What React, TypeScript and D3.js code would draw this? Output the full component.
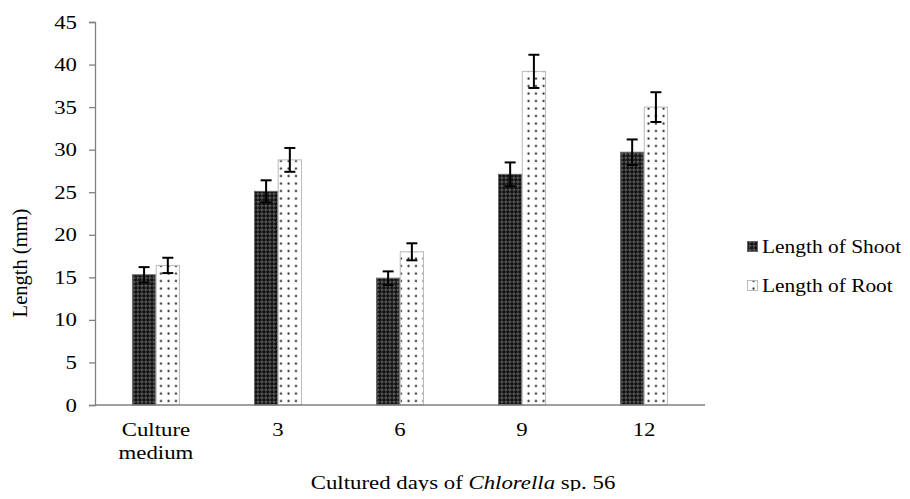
import { useEffect, useRef } from "react";
import * as d3 from "d3";

const categories = ["Culture medium", "3", "6", "9", "12"];
const shootValues = [15.3, 25.1, 14.9, 27.1, 29.7];
const shootErrors = [0.9, 1.3, 0.8, 1.4, 1.5];
const rootValues = [16.4, 28.8, 18.0, 39.2, 35.0];
const rootErrors = [0.9, 1.4, 1.0, 1.95, 1.75];
const yTicks = [0, 5, 10, 15, 20, 25, 30, 35, 40, 45];
const seriesNames = ["Length of Shoot", "Length of Root"];

const FONT = "'Times New Roman', 'Liberation Serif', serif";
const SX = 1.17; // the reference text is a bit stretched sideways

const App = () => {
  const ref = useRef<SVGSVGElement>(null);

  useEffect(() => {
    const width = 910;
    const height = 499;
    const margin = { top: 22, right: 205, bottom: 94, left: 95 };

    const svg = d3.select(ref.current);
    svg.selectAll("*").remove();

    // text placed at (x, y) and stretched horizontally around its anchor
    const label = (parent: any, x: number, y: number, anchor: string, size = 19.5) =>
      parent
        .append("text")
        .attr("transform", `translate(${x},${y}) scale(${SX},1)`)
        .attr("text-anchor", anchor)
        .attr("font-size", size);

    const defs = svg.append("defs");
    const shoot = defs
      .append("pattern")
      .attr("id", "shootPat")
      .attr("patternUnits", "userSpaceOnUse")
      .attr("width", 4)
      .attr("height", 4);
    shoot.append("rect").attr("width", 4).attr("height", 4).attr("fill", "#111");
    shoot
      .append("path")
      .attr("d", "M2,0.7 L3.3,2 L2,3.3 L0.7,2 Z")
      .attr("fill", "none")
      .attr("stroke", "#aaa")
      .attr("stroke-width", 0.6);

    const root = defs
      .append("pattern")
      .attr("id", "rootPat")
      .attr("patternUnits", "userSpaceOnUse")
      .attr("width", 7.5)
      .attr("height", 7.5);
    root.append("rect").attr("width", 7.5).attr("height", 7.5).attr("fill", "#fff");
    root.append("circle").attr("cx", 3.5).attr("cy", 3.5).attr("r", 1.1).attr("fill", "#222");

    const x0 = d3
      .scaleBand()
      .domain(categories)
      .range([margin.left, width - margin.right])
      .paddingInner(0.607)
      .paddingOuter(0.303);
    const x1 = d3
      .scaleBand()
      .domain(seriesNames)
      .range([0, x0.bandwidth()])
      .padding(0.02);
    const y = d3
      .scaleLinear()
      .domain([0, 45])
      .range([height - margin.bottom, margin.top]);

    const series = [
      { name: seriesNames[0], values: shootValues, errors: shootErrors, fill: "url(#shootPat)", stroke: "#666" },
      { name: seriesNames[1], values: rootValues, errors: rootErrors, fill: "url(#rootPat)", stroke: "#bbb" },
    ];

    // y axis
    const yAxis = svg
      .append("g")
      .attr("transform", `translate(${margin.left},0)`)
      .call(d3.axisLeft(y).tickValues(yTicks).tickSize(6).tickFormat(() => ""));
    yAxis.select(".domain").attr("stroke", "#808080").attr("stroke-width", 1.3);
    yAxis.selectAll(".tick line").attr("stroke", "#808080").attr("stroke-width", 1.3);
    yTicks.forEach((t) => {
      label(svg, margin.left - 18, y(t) + 6.5, "end").text(t);
    });

    // bars
    series.forEach((s) => {
      const g = svg.append("g");
      g.selectAll("rect")
        .data(categories)
        .join("rect")
        .attr("x", (d) => (x0(d) ?? 0) + (x1(s.name) ?? 0))
        .attr("y", (d, i) => y(s.values[i]))
        .attr("width", x1.bandwidth())
        .attr("height", (d, i) => y(0) - y(s.values[i]))
        .attr("fill", s.fill)
        .attr("stroke", s.stroke)
        .attr("stroke-width", 1);

      const eb = g
        .selectAll("g.err")
        .data(categories)
        .join("g")
        .attr("class", "err")
        .attr("stroke", "#000")
        .attr("stroke-width", 2);
      const cx = (d: string) => (x0(d) ?? 0) + (x1(s.name) ?? 0) + x1.bandwidth() / 2;
      eb.append("line")
        .attr("x1", cx)
        .attr("x2", cx)
        .attr("y1", (d, i) => y(s.values[i] + s.errors[i]))
        .attr("y2", (d, i) => y(s.values[i] - s.errors[i]));
      eb.append("line")
        .attr("x1", (d) => cx(d) - 5.5)
        .attr("x2", (d) => cx(d) + 5.5)
        .attr("y1", (d, i) => y(s.values[i] + s.errors[i]))
        .attr("y2", (d, i) => y(s.values[i] + s.errors[i]));
      eb.append("line")
        .attr("x1", (d) => cx(d) - 5.5)
        .attr("x2", (d) => cx(d) + 5.5)
        .attr("y1", (d, i) => y(s.values[i] - s.errors[i]))
        .attr("y2", (d, i) => y(s.values[i] - s.errors[i]));
    });

    // x axis line
    svg
      .append("line")
      .attr("x1", margin.left)
      .attr("x2", width - margin.right)
      .attr("y1", y(0))
      .attr("y2", y(0))
      .attr("stroke", "#808080")
      .attr("stroke-width", 1.3);

    // category labels
    categories.forEach((c) => {
      const cx = (x0(c) ?? 0) + x0.bandwidth() / 2;
      c.split(" ").forEach((w, i) => {
        label(svg, cx, y(0) + 31 + i * 22.5, "middle").text(w);
      });
    });

    // axis titles
    svg
      .append("text")
      .attr("transform", `translate(27,263) rotate(-90)`)
      .attr("text-anchor", "middle")
      .attr("font-size", 20.5)
      .text("Length (mm)");

    const xt = label(svg, 463, 489, "middle");
    xt.append("tspan").text("Cultured days of ");
    xt.append("tspan").attr("font-style", "italic").text("Chlorella");
    xt.append("tspan").text(" sp. 56");

    // legend
    series.forEach((s, i) => {
      const ly = 253 + i * 39;
      svg
        .append("rect")
        .attr("x", 747.5)
        .attr("y", ly - 11.5)
        .attr("width", 10)
        .attr("height", 10)
        .attr("fill", s.fill)
        .attr("stroke", s.stroke);
      label(svg, 762, ly, "start", 18.3).text(s.name);
    });
  }, []);

  return (
    <svg
      ref={ref}
      width={910}
      height={499}
      style={{ display: "block", margin: -8, fontFamily: FONT, fontSize: 19.5 }}
    />
  );
};

export default App;
